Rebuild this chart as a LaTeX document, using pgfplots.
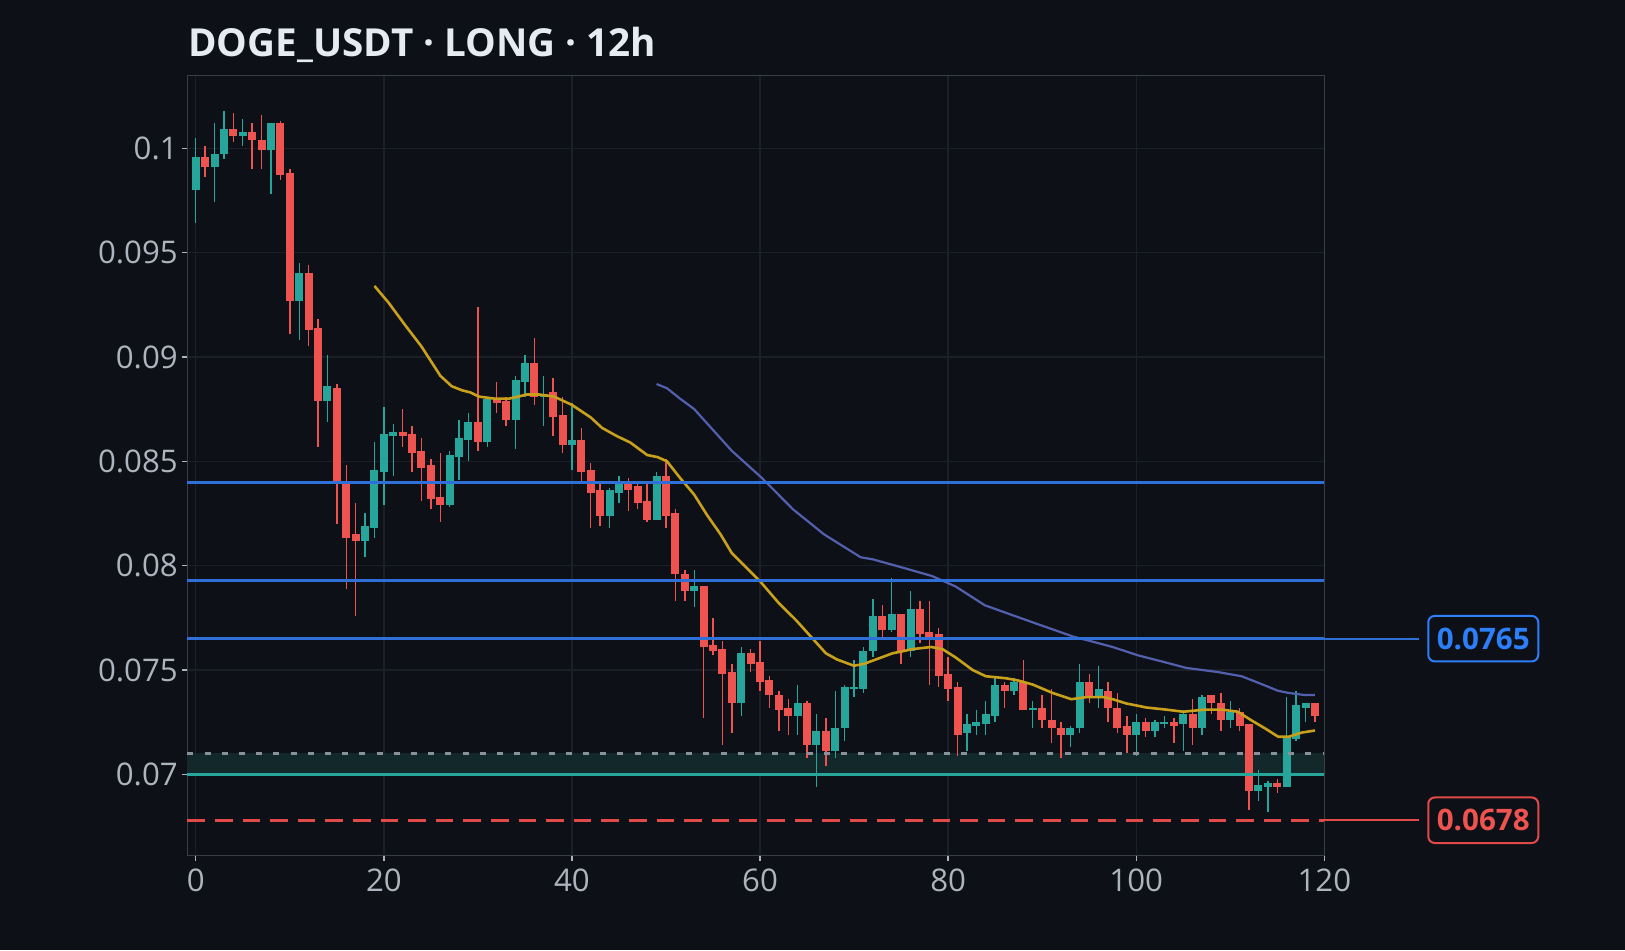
\documentclass[border=0pt]{standalone}
\usepackage{fontspec}
\setmainfont{Open Sans}
\usepackage{pgfplots}
\usepackage{pgfplotstable}
\pgfplotsset{compat=1.18}

\definecolor{bg}{HTML}{0D1017}
\definecolor{gridc}{HTML}{1B1F27}
\definecolor{frame}{HTML}{393D46}
\definecolor{tlab}{HTML}{AEB4BE}
\definecolor{titlec}{HTML}{E6EBF3}
\definecolor{upc}{HTML}{26A69A}
\definecolor{downc}{HTML}{EF5350}
\definecolor{ma20}{HTML}{C9A01C}
\definecolor{ma50}{HTML}{5260AE}
\definecolor{lvl}{HTML}{2E6FD8}
\definecolor{lblue}{HTML}{2D7FF9}
\definecolor{dotc}{HTML}{8A9099}
\definecolor{bandc}{HTML}{12282A}
\definecolor{stopc}{HTML}{E04A48}

% candles: index, open, high, low, close
\pgfplotstableread{
x o h l c
0 0.0980 0.1005 0.0964 0.0996
1 0.0996 0.1001 0.0986 0.0991
2 0.0991 0.1012 0.0974 0.0997
3 0.0997 0.1018 0.0995 0.1009
4 0.1009 0.1017 0.1003 0.1006
5 0.1006 0.1014 0.1001 0.1008
6 0.1008 0.1012 0.0990 0.1004
7 0.1004 0.1016 0.0990 0.0999
8 0.0999 0.1012 0.0978 0.1012
9 0.1012 0.1013 0.0985 0.0987
10 0.0988 0.0990 0.0911 0.0927
11 0.0927 0.0945 0.0908 0.0940
12 0.0940 0.0944 0.0905 0.0913
13 0.0914 0.0918 0.0857 0.0879
14 0.0879 0.0901 0.0869 0.0886
15 0.0885 0.0887 0.0820 0.0840
16 0.0840 0.0848 0.0789 0.0813
17 0.0815 0.0830 0.0776 0.0812
18 0.0812 0.0825 0.0804 0.0819
19 0.0818 0.0859 0.0813 0.0846
20 0.0845 0.0876 0.0829 0.0863
21 0.0862 0.0868 0.0843 0.0864
22 0.0864 0.0875 0.0857 0.0862
23 0.0863 0.0867 0.0845 0.0854
24 0.0855 0.0861 0.0831 0.0847
25 0.0848 0.0851 0.0827 0.0832
26 0.0833 0.0854 0.0821 0.0829
27 0.0829 0.0855 0.0828 0.0853
28 0.0852 0.0870 0.0841 0.0861
29 0.0860 0.0873 0.0850 0.0869
30 0.0869 0.0924 0.0855 0.0859
31 0.0859 0.0881 0.0857 0.0880
32 0.0880 0.0888 0.0873 0.0878
33 0.0879 0.0881 0.0867 0.0870
34 0.0870 0.0891 0.0856 0.0889
35 0.0888 0.0901 0.0881 0.0897
36 0.0897 0.0909 0.0877 0.0881
37 0.0881 0.0891 0.0867 0.0882
38 0.0883 0.0890 0.0862 0.0871
39 0.0872 0.0881 0.0854 0.0858
40 0.0858 0.0878 0.0846 0.0860
41 0.0860 0.0866 0.0839 0.0845
42 0.0846 0.0849 0.0818 0.0835
43 0.0836 0.0840 0.0819 0.0824
44 0.0824 0.0837 0.0818 0.0836
45 0.0835 0.0843 0.0830 0.0839
46 0.0839 0.0842 0.0826 0.0836
47 0.0838 0.0839 0.0827 0.0830
48 0.0831 0.0839 0.0821 0.0822
49 0.0822 0.0845 0.0822 0.0843
50 0.0843 0.0851 0.0818 0.0824
51 0.0825 0.0827 0.0783 0.0796
52 0.0796 0.0798 0.0783 0.0788
53 0.0788 0.0798 0.0780 0.0790
54 0.0790 0.0790 0.0727 0.0761
55 0.0762 0.0775 0.0757 0.0759
56 0.0760 0.0764 0.0714 0.0748
57 0.0749 0.0753 0.0720 0.0734
58 0.0734 0.0761 0.0728 0.0758
59 0.0758 0.0760 0.0749 0.0753
60 0.0754 0.0764 0.0740 0.0744
61 0.0745 0.0747 0.0732 0.0738
62 0.0738 0.0740 0.0721 0.0731
63 0.0732 0.0736 0.0719 0.0728
64 0.0728 0.0743 0.0719 0.0734
65 0.0734 0.0735 0.0708 0.0714
66 0.0714 0.0729 0.0694 0.0721
67 0.0721 0.0727 0.0704 0.0711
68 0.0711 0.0740 0.0708 0.0722
69 0.0722 0.0743 0.0716 0.0742
70 0.0741 0.0755 0.0737 0.0742
71 0.0741 0.0761 0.0739 0.0759
72 0.0759 0.0784 0.0756 0.0776
73 0.0776 0.0781 0.0766 0.0769
74 0.0769 0.0794 0.0768 0.0777
75 0.0777 0.0777 0.0753 0.0759
76 0.0759 0.0788 0.0756 0.0779
77 0.0779 0.0783 0.0763 0.0767
78 0.0768 0.0783 0.0743 0.0766
79 0.0767 0.0770 0.0742 0.0747
80 0.0748 0.0756 0.0735 0.0741
81 0.0742 0.0744 0.0709 0.0719
82 0.0720 0.0729 0.0711 0.0724
83 0.0723 0.0731 0.0719 0.0725
84 0.0724 0.0735 0.0719 0.0729
85 0.0728 0.0746 0.0725 0.0743
86 0.0743 0.0744 0.0732 0.0740
87 0.0740 0.0746 0.0738 0.0744
88 0.0744 0.0755 0.0731 0.0731
89 0.0731 0.0735 0.0722 0.0732
90 0.0732 0.0738 0.0722 0.0726
91 0.0726 0.0741 0.0715 0.0722
92 0.0722 0.0725 0.0708 0.0719
93 0.0719 0.0723 0.0713 0.0722
94 0.0722 0.0753 0.0720 0.0744
95 0.0744 0.0748 0.0734 0.0737
96 0.0737 0.0752 0.0732 0.0741
97 0.0740 0.0744 0.0725 0.0732
98 0.0732 0.0739 0.0720 0.0722
99 0.0723 0.0728 0.0710 0.0719
100 0.0719 0.0729 0.0709 0.0725
101 0.0725 0.0727 0.0718 0.0721
102 0.0721 0.0726 0.0718 0.0725
103 0.0724 0.0728 0.0722 0.0725
104 0.0725 0.0727 0.0715 0.0723
105 0.0724 0.0731 0.0711 0.0729
106 0.0729 0.0736 0.0714 0.0722
107 0.0722 0.0738 0.0719 0.0737
108 0.0738 0.0738 0.0729 0.0734
109 0.0734 0.0739 0.0721 0.0726
110 0.0726 0.0735 0.0722 0.0730
111 0.0730 0.0732 0.0721 0.0723
112 0.0724 0.0724 0.0683 0.0692
113 0.0692 0.0702 0.0687 0.0695
114 0.0694 0.0697 0.0682 0.0696
115 0.0696 0.0698 0.0691 0.0694
116 0.0694 0.0737 0.0694 0.0718
117 0.0717 0.0740 0.0716 0.0733
118 0.0732 0.0734 0.0725 0.0734
119 0.0734 0.0734 0.0725 0.0728
}\ohlc

\begin{document}
\begin{tikzpicture}
\fill[bg] (0,0) rectangle (812.5pt,475pt);
\useasboundingbox (0,0) rectangle (812.5pt,475pt);
\node[anchor=base west, inner sep=0pt, text=titlec,
      font=\fontsize{19.3}{23}\selectfont\bfseries] at (94pt,446.5pt)
      {DOGE\_USDT · LONG · 12h};
\begin{axis}[
    at={(93.65pt,47.25pt)}, anchor=south west,
    scale only axis, width=568.5pt, height=389.95pt,
    xmin=-0.9, xmax=120, ymin=0.06611, ymax=0.10348,
    clip=false,
    axis line style={draw=frame, line width=0.7pt},
    grid=major, major grid style={draw=gridc, line width=0.7pt},
    tick pos=left, tick align=outside, major tick length=2.6pt,
    tick style={draw=tlab, line width=0.7pt},
    xtick={0,20,40,60,80,100,120},
    xticklabels={0,20,40,60,80,100,120},
    ytick={0.07,0.075,0.08,0.085,0.09,0.095,0.1},
    yticklabels={0.07,0.075,0.08,0.085,0.09,0.095,0.1},
    ticklabel style={font=\fontsize{15.6}{18}\selectfont, text=tlab},
    yticklabel style={inner sep=0pt, xshift=-2pt},
    xticklabel style={inner sep=0pt, yshift=-4pt},
]
% support band
\addplot[fill=bandc, draw=none, forget plot] coordinates
    {(-0.9,0.070) (120,0.070) (120,0.071) (-0.9,0.071)} -- cycle;

% candles
\pgfplotstablegetrowsof{\ohlc}
\pgfmathtruncatemacro{\nrows}{\pgfplotsretval-1}
\pgfplotsforeachungrouped \i in {0,...,\nrows}{%
    \pgfplotstablegetelem{\i}{x}\of\ohlc \let\cx\pgfplotsretval
    \pgfplotstablegetelem{\i}{o}\of\ohlc \let\co\pgfplotsretval
    \pgfplotstablegetelem{\i}{h}\of\ohlc \let\ch\pgfplotsretval
    \pgfplotstablegetelem{\i}{l}\of\ohlc \let\cl\pgfplotsretval
    \pgfplotstablegetelem{\i}{c}\of\ohlc \let\cc\pgfplotsretval
    \ifdim\cc pt<\co pt \def\col{downc}\else\def\col{upc}\fi
    \edef\tmp{%
        \noexpand\addplot[draw=\col, line width=0.7pt, mark=none, forget plot]
            coordinates {(\cx,\cl) (\cx,\ch)};
        \noexpand\addplot[draw=\col, line width=4pt, mark=none, forget plot]
            coordinates {(\cx,\co) (\cx,\cc)};
    }\tmp
}

% moving averages
\addplot[ma20, line width=1.3pt, mark=none] coordinates {
(19,0.0934) (20.5,0.0926) (22.3,0.0915) (24,0.0905) (26,0.0891) (27.2,0.0886)
(28.3,0.0884) (29.2,0.0883) (30.1,0.0881) (31.8,0.0880) (33.3,0.0880) (34.3,0.0881)
(35.2,0.0882) (36.5,0.0882) (38.1,0.0881) (40,0.0877) (42,0.0871) (43.2,0.0866)
(44.8,0.0862) (46.2,0.0859) (48,0.0853) (49.1,0.0852) (50.1,0.0850) (51.5,0.0842)
(53,0.0834) (54.4,0.0824) (55.8,0.0815) (57,0.0806) (57.9,0.0802) (60.1,0.0792)
(62,0.0782) (63.8,0.0774) (65.6,0.0765) (67,0.0758) (68.2,0.0755) (70,0.0752)
(71.1,0.0753) (72.3,0.0755) (74.1,0.0758) (75.2,0.0759) (76.2,0.0760) (78.2,0.0761)
(79.4,0.0760) (80.8,0.0756) (82.6,0.0750) (84,0.0747) (86.2,0.0746) (87.4,0.0745)
(89,0.0743) (91.1,0.0739) (93.1,0.0736) (94.7,0.0737) (96.5,0.0737) (97.5,0.0736)
(98.9,0.0734) (101.1,0.0732) (103.2,0.0731) (105,0.0730) (107.3,0.0731) (109.1,0.0731)
(110.8,0.0730) (112.2,0.0726) (113.7,0.0722) (115.1,0.0718) (116.2,0.0718) (117.6,0.0720)
(119,0.0721)
};
\addplot[ma50, line width=1.1pt, mark=none] coordinates {
(49,0.0887) (50.1,0.0885) (51.5,0.0880) (53,0.0875) (54.4,0.0868) (56,0.0860)
(57,0.0855) (60.2,0.0842) (63.5,0.0827) (66.8,0.0815) (70.7,0.0804) (72,0.0803)
(75.2,0.0799) (78.3,0.0795) (80.8,0.0790) (83.9,0.0781) (89.5,0.0772) (93.3,0.0766)
(95,0.0764) (97.5,0.0761) (100.2,0.0757) (102.8,0.0754) (105.3,0.0751) (108.7,0.0749)
(111.2,0.0747) (112.9,0.0744) (115.1,0.0740) (116.2,0.0739) (117.9,0.0738) (119,0.0738)
};

% level lines
\addplot[lvl, line width=1.5pt, mark=none] coordinates {(-0.9,0.0840) (120,0.0840)};
\addplot[lvl, line width=1.5pt, mark=none] coordinates {(-0.9,0.0793) (120,0.0793)};
\addplot[lvl, line width=1.5pt, mark=none] coordinates {(-0.9,0.0765) (120,0.0765)};
\addplot[dotc, line width=1.5pt, mark=none, dash pattern=on 3pt off 5.6pt]
    coordinates {(-0.9,0.071) (120,0.071)};
\addplot[upc, line width=1.5pt, mark=none] coordinates {(-0.9,0.070) (120,0.070)};
\addplot[stopc, line width=1.6pt, mark=none, dash pattern=on 8.8pt off 5pt]
    coordinates {(-0.9,0.0678) (120,0.0678)};

% price tags on the right
\draw[lvl, line width=1pt] (axis cs:120,0.0765) -- (axis cs:130.1,0.0765);
\draw[stopc, line width=1pt] (axis cs:120,0.0678) -- (axis cs:130.1,0.0678);
\node[draw=lblue, line width=1pt, rounded corners=3.3pt, fill=bg,
      minimum width=55pt, minimum height=22.8pt, inner sep=0pt, text=lblue,
      font=\fontsize{14.8}{17}\selectfont\bfseries] at (axis cs:136.9,0.0765) {0.0765};
\node[draw=stopc, line width=1pt, rounded corners=3.3pt, fill=bg,
      minimum width=55pt, minimum height=22.8pt, inner sep=0pt, text=downc,
      font=\fontsize{14.8}{17}\selectfont\bfseries] at (axis cs:136.9,0.0678) {0.0678};
\end{axis}
\end{tikzpicture}
\end{document}
